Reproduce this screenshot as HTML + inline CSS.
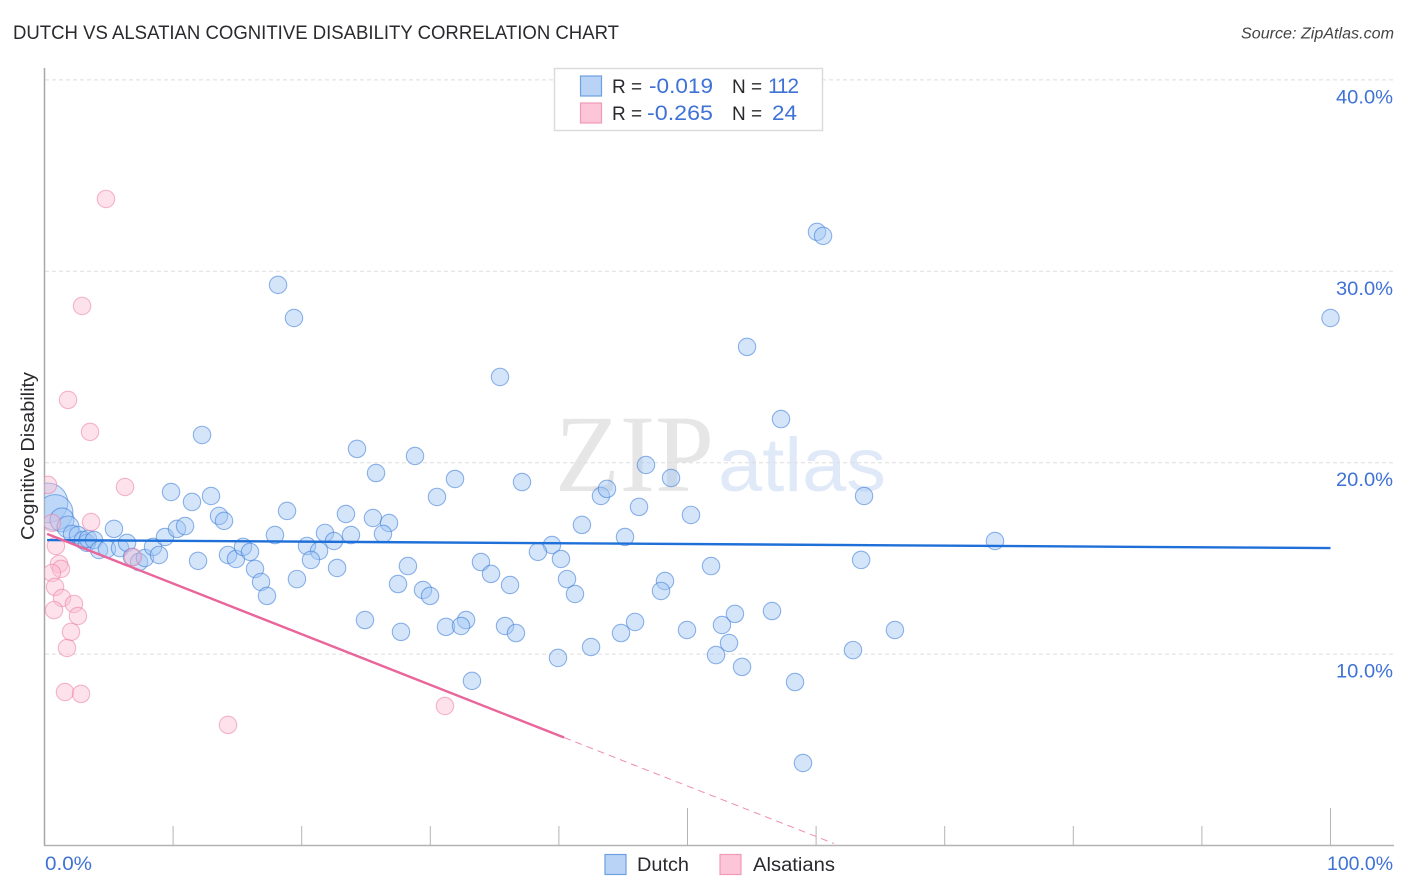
<!DOCTYPE html>
<html lang="en">
<head>
<meta charset="utf-8">
<title>Dutch vs Alsatian Cognitive Disability Correlation Chart</title>
<style>
html,body{margin:0;padding:0;background:#fff;width:1406px;height:892px;overflow:hidden}
svg{display:block;font-family:"Liberation Sans",sans-serif}
</style>
</head>
<body>
<svg id="chart" width="1406" height="892" viewBox="0 0 1406 892" xmlns="http://www.w3.org/2000/svg">
  <text x="13" y="39" font-size="19" fill="#2a2a2e" textLength="606" lengthAdjust="spacingAndGlyphs">DUTCH VS ALSATIAN COGNITIVE DISABILITY CORRELATION CHART</text>
  <text x="1394" y="38.5" font-size="15.5" font-style="italic" fill="#444" text-anchor="end" textLength="153" lengthAdjust="spacingAndGlyphs">Source: ZipAtlas.com</text>

  <g>
    <text x="555" y="491" font-family="'Liberation Serif',serif" font-size="110" fill="#e6e6e6" textLength="159" lengthAdjust="spacingAndGlyphs">ZIP</text>
    <text x="718" y="491" font-size="76" fill="#e0e9f8" textLength="168" lengthAdjust="spacingAndGlyphs">atlas</text>
  </g>

  <g id="grid"></g>
  <g id="axes"></g>
  <g id="dutch-points"></g>
  <g id="alsatian-points"></g>
  <g id="trends"></g>
  <g id="y-labels"></g>

  <text transform="translate(34 456) rotate(-90)" font-size="18.5" fill="#2a2a2e" text-anchor="middle" textLength="168" lengthAdjust="spacingAndGlyphs">Cognitive Disability</text>

  <text x="45" y="870" font-size="19" fill="#3f72d6" textLength="47" lengthAdjust="spacingAndGlyphs">0.0%</text>
  <text x="1393" y="870" font-size="19" fill="#3f72d6" text-anchor="end" textLength="66" lengthAdjust="spacingAndGlyphs">100.0%</text>

  <g>
    <rect x="554.5" y="68.5" width="268" height="62" fill="#fff" stroke="#dcdcdc" stroke-width="1.5"/>
    <rect x="580.5" y="76" width="21" height="20" fill="#b8d3f6" stroke="#6fa0e0" stroke-width="1.2"/>
    <rect x="580.5" y="103" width="21" height="20" fill="#fcc6d8" stroke="#f09ab8" stroke-width="1.2"/>
    <text x="612" y="93" font-size="19" fill="#2a2a2e">R =</text>
    <text x="649" y="93" font-size="21" fill="#3f72d6" textLength="64" lengthAdjust="spacingAndGlyphs">-0.019</text>
    <text x="732" y="93" font-size="19" fill="#2a2a2e">N =</text>
    <text x="797" y="93" font-size="21" fill="#3f72d6" text-anchor="end" textLength="29" lengthAdjust="spacing" letter-spacing="-2">112</text>
    <text x="612" y="120" font-size="19" fill="#2a2a2e">R =</text>
    <text x="647" y="120" font-size="21" fill="#3f72d6" textLength="66" lengthAdjust="spacingAndGlyphs">-0.265</text>
    <text x="732" y="120" font-size="19" fill="#2a2a2e">N =</text>
    <text x="797" y="120" font-size="21" fill="#3f72d6" text-anchor="end" textLength="25" lengthAdjust="spacingAndGlyphs">24</text>
  </g>

  <g>
    <rect x="605" y="854.5" width="21" height="20" fill="#b8d3f6" stroke="#6fa0e0" stroke-width="1.2"/>
    <text x="637" y="871" font-size="19" fill="#2a2a2e" textLength="52" lengthAdjust="spacingAndGlyphs">Dutch</text>
    <rect x="720" y="854.5" width="21" height="20" fill="#fcc6d8" stroke="#f09ab8" stroke-width="1.2"/>
    <text x="753" y="871" font-size="19" fill="#2a2a2e" textLength="82" lengthAdjust="spacingAndGlyphs">Alsatians</text>
  </g>
</svg>
<script>
const dutchX = [0.27,0.82,1.36,1.83,2.14,2.60,2.99,3.30,3.38,3.85,4.24,4.86,5.87,6.42,6.80,7.35,7.81,8.44,8.90,5.40,9.37,10.30,10.93,9.84,11.47,12.95,13.57,13.96,11.94,14.27,14.89,15.44,15.98,16.37,16.84,17.30,19.63,17.92,18.86,18.16,19.40,60.07,60.54,100.0,54.63,35.42,57.27,12.25,24.30,28.81,46.77,48.72,25.78,31.92,37.13,30.52,43.27,43.74,63.73,46.23,50.27,23.44,25.54,26.79,41.79,21.81,23.83,26.32,45.14,22.51,20.41,21.35,39.46,38.37,73.91,40.16,20.72,33.94,28.26,22.75,51.83,63.50,34.72,40.63,48.25,27.49,36.20,29.43,29.98,47.94,41.25,56.57,53.69,32.78,24.92,45.92,52.68,31.22,32.39,35.81,36.66,27.72,44.83,49.96,66.13,53.23,42.50,62.87,52.22,39.93,54.24,33.24,58.36,58.98];
const dutchY = [17.90,17.40,17.01,16.64,16.28,16.22,15.96,15.81,16.01,15.96,15.44,15.49,15.54,15.81,15.07,14.81,15.02,15.60,15.18,16.54,16.12,16.54,16.69,18.47,17.95,18.26,17.22,16.96,14.87,15.18,14.97,15.60,15.34,14.45,13.77,13.04,13.92,16.22,17.48,29.29,27.56,32.06,31.85,27.56,26.05,24.48,22.28,21.45,20.72,20.35,19.88,19.20,19.46,19.15,18.99,18.21,18.26,18.63,18.26,17.69,17.27,17.32,17.11,16.85,16.75,16.33,16.22,16.28,16.12,15.91,15.65,15.39,15.70,15.34,15.91,14.97,14.92,14.81,14.60,14.50,14.60,14.92,14.19,13.92,13.82,13.66,13.61,13.35,13.04,13.30,13.14,12.25,12.10,11.78,11.78,11.68,11.52,11.42,11.47,11.47,11.10,11.16,11.10,11.26,11.26,10.58,10.37,10.21,9.95,9.80,9.33,8.60,8.54,4.31];
const dutchWeight = [5.2,4.2,1.9,1.6];
const alsatianX = [0.27,3.62,0.58,0.89,1.13,1.28,0.58,0.82,1.36,2.29,2.60,0.74,2.06,1.75,1.59,2.84,14.27,6.88,6.26,4.78,2.92,1.83,3.54,31.14];
const alsatianY = [18.84,16.90,16.85,15.65,14.71,14.45,14.24,13.51,12.93,12.62,11.99,12.30,11.16,10.32,8.02,7.92,6.30,15.07,18.73,33.78,28.19,23.28,21.61,7.29];
const yTicks = [10,20,30,40];
const yTickLabels = ["10.0%","20.0%","30.0%","40.0%"];
const xTicks = [0,10,20,30,40,50,60,70,80,90,100];
const xMajorTicks = [0,50,100];
const dutchTrendX = [0.2,100];
const dutchTrendY = [15.96,15.54];
const alsatianTrendX = [0.2,40.4];
const alsatianTrendY = [16.28,5.64];
const alsatianDashX = [40.4,61.4];
const alsatianDashY = [5.64,0.1];

const SVGNS = 'http://www.w3.org/2000/svg';
function xScale(v){ return 44.5 + v * 12.86; }
function yScale(v){ return 845.5 - v * 19.14; }
function mk(parent, tag, attrs){
  const el = document.createElementNS(SVGNS, tag);
  for (const k in attrs) el.setAttribute(k, attrs[k]);
  parent.appendChild(el);
  return el;
}
const clipDefs = mk(document.getElementById('chart'), 'defs', {});
const clip = mk(clipDefs, 'clipPath', {id:'plot-clip'});
mk(clip, 'rect', {x:44.5, y:60, width:1350, height:786});

const grid = document.getElementById('grid');
yTicks.forEach(function(t){
  const line = mk(grid, 'line', {x1:45, x2:1394, y1:yScale(t), y2:yScale(t), stroke:'#dedede', 'stroke-width':1, 'stroke-dasharray':'4 3'});
  
  
});

const axes = document.getElementById('axes');
const yAxisLine = mk(axes, 'line', {x1:44.5, x2:44.5, y1:68, y2:846, stroke:'#a8a8a8', 'stroke-width':1.5});


const xAxisLine = mk(axes, 'line', {x1:44, x2:1394, y1:845.5, y2:845.5, stroke:'#b4b4b4', 'stroke-width':1.5});


xTicks.forEach(function(t){
  if (t === 0) return;
  const major = xMajorTicks.indexOf(t) >= 0;
  const tick = mk(axes, 'line', {x1:xScale(t), x2:xScale(t), y1: major ? 808 : 826, y2:845.5, stroke:'#b4b4b4', 'stroke-width':1});
  
  
});

const yLabels = document.getElementById('y-labels');
yTicks.forEach(function(t, i){
  const label = mk(yLabels, 'text', {x:1393, y:yScale(t) + 23.5, 'font-size':19, fill:'#3f72d6', 'text-anchor':'end', textLength:57, lengthAdjust:'spacingAndGlyphs'});
  label.textContent = yTickLabels[i];
  
  
});

const dutchGroup = document.getElementById('dutch-points');
dutchX.forEach(function(x, i){
  const w = dutchWeight[i] || 1;
  const c = mk(dutchGroup, 'circle', {cx:xScale(x), cy:yScale(dutchY[i]), r:8.7 * Math.sqrt(w), fill:'rgba(160,198,245,0.45)', stroke:'rgba(55,120,215,0.55)', 'stroke-width':1.1, 'clip-path':'url(#plot-clip)'});
  
  
});
const alsGroup = document.getElementById('alsatian-points');
alsatianX.forEach(function(x, i){
  const c = mk(alsGroup, 'circle', {cx:xScale(x), cy:yScale(alsatianY[i]), r:8.7, fill:'rgba(250,185,208,0.42)', stroke:'rgba(235,125,165,0.55)', 'stroke-width':1.1, 'clip-path':'url(#plot-clip)'});
  
  
});

const trends = document.getElementById('trends');
const dutchLine = mk(trends, 'line', {x1:xScale(dutchTrendX[0]), y1:yScale(dutchTrendY[0]), x2:xScale(dutchTrendX[1]), y2:yScale(dutchTrendY[1]), stroke:'#1f6fd8', 'stroke-width':2.4});


const alsLine = mk(trends, 'line', {x1:xScale(alsatianTrendX[0]), y1:yScale(alsatianTrendY[0]), x2:xScale(alsatianTrendX[1]), y2:yScale(alsatianTrendY[1]), stroke:'#e9659a', 'stroke-width':2.4});


const alsDash = mk(trends, 'line', {x1:xScale(alsatianDashX[0]), y1:yScale(alsatianDashY[0]), x2:xScale(alsatianDashX[1]), y2:yScale(alsatianDashY[1]), stroke:'#ee8db3', 'stroke-width':1, 'stroke-dasharray':'7 5'});


</script>
</body>
</html>
